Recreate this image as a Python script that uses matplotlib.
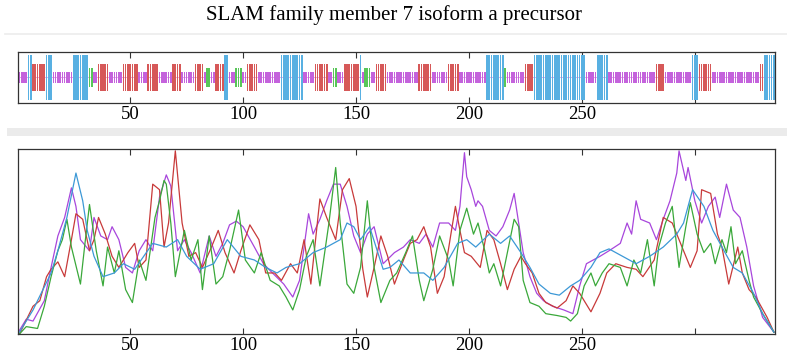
import numpy as np
import matplotlib
matplotlib.use('Agg')
import matplotlib.pyplot as plt
from matplotlib.patches import Rectangle
from matplotlib.lines import Line2D

plt.rcParams['font.family'] = ['Liberation Serif', 'DejaVu Serif']

title = 'SLAM family member 7 isoform a precursor'
seq_len = 335
tick_pos = [50, 100, 150, 200, 250, 300]
tick_labels = ['50', '100', '150', '200', '250', '']

# secondary structure track: (first residue, last residue, state)
# C = coil, H = helix, E = strand, T = turn
segments = [
    (1, 4, 'C'), (5, 6, 'E'), (7, 12, 'H'), (13, 15, 'E'), (16, 24, 'C'),
    (25, 31, 'E'), (32, 33, 'T'), (34, 35, 'C'), (36, 40, 'H'), (41, 46, 'C'),
    (47, 53, 'H'), (54, 57, 'C'), (58, 62, 'H'), (63, 68, 'C'), (69, 72, 'H'),
    (73, 78, 'C'), (79, 82, 'H'), (83, 83, 'C'), (84, 85, 'T'), (86, 87, 'C'),
    (88, 91, 'H'), (92, 93, 'E'), (94, 96, 'C'), (97, 99, 'T'), (100, 101, 'C'),
    (102, 106, 'H'), (107, 116, 'C'), (117, 126, 'E'), (127, 131, 'C'),
    (132, 137, 'H'), (138, 139, 'C'), (140, 141, 'T'), (142, 144, 'C'),
    (145, 151, 'H'), (152, 152, 'E'), (153, 153, 'C'), (154, 156, 'T'),
    (157, 158, 'C'), (159, 163, 'H'), (164, 177, 'C'), (178, 183, 'H'),
    (184, 190, 'C'), (191, 195, 'H'), (196, 207, 'C'), (208, 215, 'E'),
    (216, 216, 'T'), (217, 224, 'C'), (225, 228, 'H'), (229, 251, 'E'),
    (252, 256, 'C'), (257, 261, 'E'), (262, 282, 'C'), (283, 286, 'H'),
    (287, 298, 'C'), (299, 301, 'E'), (302, 307, 'H'), (308, 328, 'C'),
    (329, 330, 'H'), (331, 335, 'E'),
]

# profile curves (residue, value on 0-100 scale)
purple_x = [1, 4, 7, 12, 15, 18, 21, 24, 26, 28, 32, 34, 37, 40, 42, 45, 48, 51, 54, 57,
            60, 63, 66, 68, 71, 74, 77, 81, 85, 88, 91, 94, 97, 100, 105, 109, 113, 118,
            122, 125, 129, 131, 134, 137, 140, 143, 146, 149, 152, 155, 158, 162, 167,
            171, 174, 178, 181, 184, 187, 191, 194, 196, 198, 199, 201, 203, 204, 206,
            209, 212, 215, 218, 220, 222, 224, 227, 230, 233, 237, 242, 246, 249, 252,
            255, 258, 262, 267, 270, 272, 274, 276, 280, 283, 286, 289, 292, 293, 296,
            297, 300, 303, 306, 309, 311, 314, 317, 320, 323, 326, 330, 335]
purple_y = [2, 8, 7, 18, 36, 53, 63, 79, 69, 51, 45, 63, 53, 51, 58, 51, 36, 33, 45, 51,
            45, 74, 86, 80, 45, 51, 44, 33, 53, 42, 49, 59, 61, 58, 47, 38, 33, 27,
            20, 29, 65, 54, 62, 72, 81, 81, 69, 53, 44, 54, 58, 38, 44,
            47, 51, 49, 54, 47, 60, 60, 56, 69, 98, 85, 78, 69, 72, 69,
            56, 53, 58, 67, 76, 60, 44, 31, 22, 18, 15, 13, 11, 26, 38,
            40, 42, 45, 49, 60, 54, 72, 62, 60, 51, 62, 72, 87, 99, 83,
            90, 72, 60, 69, 74, 63, 81, 67, 63, 47, 26, 9, 1]

red_x = [1, 7, 10, 13, 15, 18, 21, 24, 26, 29, 32, 34, 36, 39, 42, 45, 49, 52, 54, 57,
         60, 63, 65, 67, 70, 73, 76, 79, 82, 86, 89, 92, 96, 99, 103, 107, 110, 114,
         117, 121, 124, 127, 130, 134, 137, 141, 144, 147, 150, 153, 155, 158, 161,
         164, 167, 171, 174, 177, 180, 183, 186, 189, 192, 194, 196, 198, 201, 205,
         208, 211, 214, 217, 220, 223, 225, 228, 231, 234, 239, 243, 246, 249, 254,
         258, 261, 265, 270, 274, 277, 282, 286, 290, 293, 298, 301, 303, 307, 310,
         312, 315, 319, 321, 324, 327, 332, 335]
red_y = [0, 15, 18, 31, 35, 39, 31, 51, 65, 62, 45, 51, 63, 54, 42, 36, 44, 49, 36, 40,
         81, 78, 47, 60, 99, 60, 42, 44, 36, 47, 56, 44, 33, 45, 59, 51, 33, 33,
         29, 38, 33, 51, 27, 73, 63, 51, 78, 84, 69, 35, 20, 36, 53,
         42, 27, 40, 49, 51, 58, 47, 22, 31, 54, 69, 56, 44, 42, 36,
         56, 51, 38, 24, 35, 42, 38, 33, 22, 17, 14, 18, 26, 22, 12,
         22, 33, 38, 36, 35, 31, 40, 63, 60, 51, 36, 45, 78, 76, 54,
         47, 27, 47, 33, 24, 20, 9, 1]

green_x = [1, 4, 9, 12, 15, 18, 20, 22, 24, 28, 30, 32, 35, 38, 40, 43, 45, 48, 51, 54,
           57, 61, 63, 65, 66, 68, 70, 74, 77, 80, 82, 85, 88, 91, 94, 98, 101, 105,
           108, 112, 116, 119, 122, 125, 128, 131, 134, 138, 141, 143, 146, 149, 152,
           155, 158, 161, 165, 168, 172, 175, 178, 180, 184, 187, 191, 193, 196, 199,
           202, 204, 207, 209, 211, 214, 217, 220, 222, 224, 227, 231, 234, 239, 243,
           245, 248, 251, 254, 256, 259, 262, 267, 270, 273, 276, 279, 282, 284, 287,
           290, 293, 296, 298, 301, 304, 307, 309, 312, 314, 316, 318, 321, 324, 326,
           330, 335]
green_y = [0, 4, 3, 15, 31, 45, 51, 62, 47, 27, 49, 70, 45, 26, 47, 33, 45, 24, 17, 40,
           29, 63, 72, 83, 81, 60, 31, 56, 40, 51, 24, 53, 27, 31, 45, 67, 40, 33,
           44, 29, 26, 20, 13, 24, 42, 51, 26, 60, 90, 60, 27, 22, 36,
           72, 36, 17, 29, 33, 44, 53, 29, 18, 35, 53, 40, 26, 56, 68,
           54, 60, 45, 33, 38, 26, 44, 62, 58, 29, 17, 15, 11, 10, 9,
           7, 11, 26, 33, 26, 33, 38, 36, 26, 40, 33, 51, 26, 47, 60,
           69, 36, 58, 71, 54, 44, 49, 38, 51, 44, 58, 38, 45, 29, 20,
           11, 1]

blue_x = [1, 7, 15, 18, 22, 26, 29, 31, 34, 38, 43, 47, 52, 56, 60, 66, 71, 75, 81, 87,
          93, 99, 105, 110, 115, 119, 125, 131, 137, 143, 146, 149, 152, 156, 162, 165,
          169, 174, 180, 184, 189, 195, 199, 203, 209, 214, 218, 223, 227, 231, 236,
          240, 245, 249, 254, 258, 262, 268, 274, 280, 286, 292, 295, 299, 304, 308,
          312, 317, 321, 326, 330, 335]
blue_y = [1, 13, 33, 45, 63, 87, 72, 56, 42, 31, 33, 38, 35, 42, 49, 47, 51, 42, 35, 38,
          51, 42, 40, 36, 33, 36, 38, 44, 47, 51, 60, 58, 51, 58, 35, 36,
          40, 33, 33, 29, 36, 49, 51, 47, 54, 49, 53, 44, 36, 27, 22,
          21, 26, 29, 36, 44, 46, 42, 38, 42, 47, 54, 60, 78, 69, 56,
          47, 36, 33, 22, 11, 1]

state_colors = {'C': '#c462dc', 'H': '#d65858', 'E': '#58b0e2', 'T': '#58c658'}
state_half = {'C': 0.22, 'H': 0.54, 'E': 0.86, 'T': 0.36}

res = []
states = []
for first, last, s in segments:
    for r in range(first, last + 1):
        res.append(r)
        states.append(s)
res = np.array(res)
half = np.array([state_half[s] for s in states])
cols = [state_colors[s] for s in states]

fig = plt.figure(figsize=(7.87, 3.58), dpi=100)

fig.text(0.5, 0.957, title, ha='center', va='center', fontsize=15)
fig.add_artist(Line2D([0.006, 1.0], [0.905, 0.905], transform=fig.transFigure,
                      color='#ececec', lw=1.2))
fig.add_artist(Rectangle((0.009, 0.619), 0.991, 0.024, transform=fig.transFigure,
                         color='#ebebeb', lw=0))

spine_col = '#333333'

# top: secondary structure track
ax1 = fig.add_axes([0.0233, 0.7115, 0.9615, 0.1441])
ax1.axhline(0, color='#e49ae4', lw=0.6, zorder=0)
ax1.bar(res, 2 * half, bottom=-half, width=0.74, color=cols, linewidth=0, zorder=2)
ax1.set_xlim(0.5, seq_len + 0.5)
ax1.set_ylim(-1, 1)
ax1.set_yticks([])

# bottom: profile curves
ax2 = fig.add_axes([0.0233, 0.067, 0.9615, 0.5168])
ax2.plot(purple_x, purple_y, color='#a846dc', lw=0.9)
ax2.plot(red_x, red_y, color='#c83a3a', lw=0.9)
ax2.plot(green_x, green_y, color='#3aa83a', lw=0.9)
ax2.plot(blue_x, blue_y, color='#3c98d6', lw=0.9)
ax2.set_xlim(0.5, seq_len + 0.5)
ax2.set_ylim(0, 100)
ax2.set_yticks([])

for ax in (ax1, ax2):
    ax.set_xticks(tick_pos)
    ax.set_xticklabels(tick_labels)
    ax.tick_params(axis='x', direction='in', top=True, length=4, width=0.8,
                   color=spine_col, labelsize=13.5, pad=2)
    for sp in ax.spines.values():
        sp.set_color(spine_col)
        sp.set_linewidth(0.9)

fig.savefig('out.png', dpi=100)
